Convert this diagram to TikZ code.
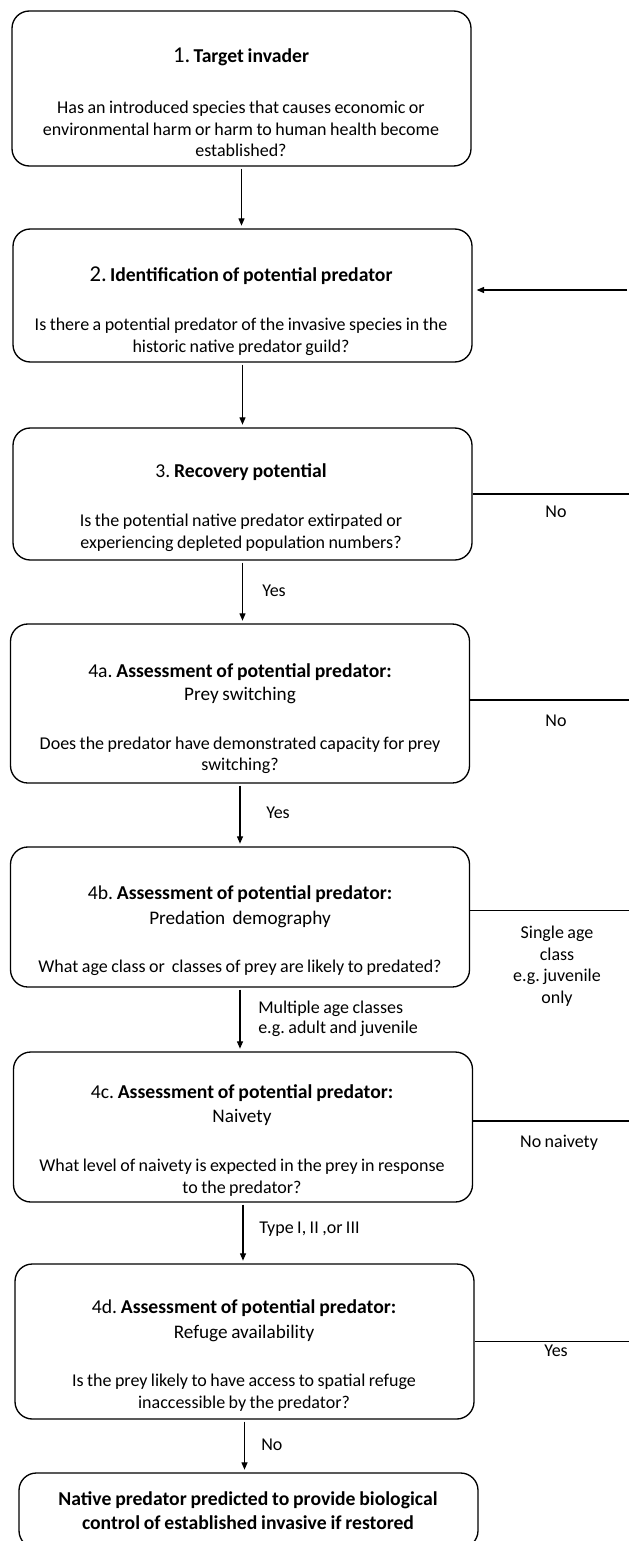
\documentclass[tikz,border=0pt]{standalone}
\usepackage{fontspec}
\setmainfont{Carlito}[WordSpace=0.85]
\usetikzlibrary{arrows.meta}
\frenchspacing
\begin{document}
\begin{tikzpicture}[x=0.75pt,y=-0.75pt,
  box/.style={draw, line width=1pt, rounded corners=13pt, inner sep=0pt, minimum width=344.25pt},
  body/.style={font=\fontsize{13.5}{16.1}\selectfont, align=center, inner sep=0pt},
  ttl/.style={font=\fontsize{14.75}{17}\selectfont, align=center, inner sep=0pt},
  sub/.style={font=\fontsize{14.4}{17}\selectfont, align=center, inner sep=0pt},
  lbl/.style={font=\fontsize{13.5}{16.2}\selectfont, align=center, inner sep=0pt},
  albl/.style={font=\fontsize{13.5}{15}\selectfont, align=left, inner sep=0pt, anchor=west},
  conn/.style={line width=0.9pt},
  arr/.style={line width=0.9pt, -{Triangle[length=5.5pt,width=4.5pt]}, shorten <=1.5pt, shorten >=2pt}
]
\useasboundingbox (0,0) rectangle (629,1541);
\coordinate (R) at (629,0);

% boxes
\node[box, minimum height=116.25pt] (b1) at (241.5,88.5) {};
\node[box, minimum height=99.75pt] (b2) at (242.5,295.5) {};
\node[box, minimum height=99pt] (b3) at (242.5,494) {};
\node[box, minimum height=119.25pt] (b4a) at (240,703.5) {};
\node[box, minimum height=105pt] (b4b) at (240,917) {};
\node[box, minimum height=112.5pt] (b4c) at (243,1127) {};
\node[box, minimum height=116.25pt] (b4d) at (244.5,1341.5) {};
\node[box, minimum height=56.25pt] (bf) at (248.5,1510.5) {};

% box texts
\node[ttl] (t1) at (241,57) {{\fontsize{17}{19}\selectfont 1.}\,\textbf{Target invader}};
\node[body] (q1) at (241,129) {Has an introduced species that causes economic or\\environmental harm or harm to human health become\\established?};

\node[ttl] (t2) at (241,276) {{\fontsize{17}{19}\selectfont 2.}\,\textbf{Identification of potential predator}};
\node[body] (q2) at (241,337) {Is there a potential predator of the invasive species in the\\historic native predator guild?};

\node[ttl] (t3) at (241,472) {3. \textbf{Recovery potential}};
\node[body] (q3) at (241,533) {Is the potential native predator extirpated or\\experiencing depleted population numbers?};

\node[ttl] (t4a) at (240,672) {4a. \textbf{Assessment of potential predator:}};
\node[sub] (s4a) at (240,695) {Prey switching};
\node[body] (q4a) at (240,755.5) {Does the predator have demonstrated capacity for prey\\switching?};

\node[ttl] (t4b) at (240,894) {4b. \textbf{Assessment of potential predator:}};
\node[sub] (s4b) at (240,919) {Predation\ \ demography};
\node[body] (q4b) at (240,968) {What age class or\ \ classes of prey are likely to predated?};

\node[ttl] (t4c) at (242,1093) {4c. \textbf{Assessment of potential predator:}};
\node[sub] (s4c) at (242,1117) {Naivety};
\node[body] (q4c) at (242,1177.5) {What level of naivety is expected in the prey in response\\to the predator?};

\node[ttl] (t4d) at (244,1308) {4d. \textbf{Assessment of potential predator:}};
\node[sub] (s4d) at (244,1333) {Refuge availability};
\node[body] (q4d) at (244,1392.5) {Is the prey likely to have access to spatial refuge\\inaccessible by the predator?};

\node[ttl, font=\fontsize{14.75}{18}\selectfont\bfseries] (tf) at (248,1511) {Native predator predicted to provide biological\\control of established invasive if restored};

% vertical arrows
\draw[arr] (b1.south) -- (b1.south |- b2.north);
\draw[arr] (b2.south) -- (b2.south |- b3.north);
\draw[arr] (b3.south) -- (b3.south |- b4a.north);
\draw[arr] (b4a.south) -- (b4a.south |- b4b.north);
\draw[arr] (b4b.south) -- (b4b.south |- b4c.north);
\draw[arr] (b4c.south) -- (b4c.south |- b4d.north);
\draw[arr] (b4d.south) -- (b4d.south |- bf.north);

% arrow labels
\node[albl] (y3) at (262,591) {Yes};
\node[albl] (y4a) at (266,813) {Yes};
\node[albl] (m4b) at (258,1019) {Multiple age classes\\e.g. adult and juvenile};
\node[albl] (ty4c) at (259,1229) {Type I, II ,or III};
\node[albl] (n4d) at (261,1445) {No};

% return lines to the right edge
\coordinate (in2) at (629,290);
\draw[arr, shorten >=3pt] (in2) -- (in2 -| b2.east);
\draw[conn] (b3.east) -- (b3.east -| R);
\draw[conn] ([yshift=2.6pt]b4a.east) -- ([yshift=2.6pt]b4a.east -| R);
\draw[conn] ([yshift=5pt]b4b.east) -- ([yshift=5pt]b4b.east -| R);
\draw[conn] ([yshift=4.5pt]b4c.east) -- ([yshift=4.5pt]b4c.east -| R);
\draw[conn] (b4d.east) -- (b4d.east -| R);

% side labels
\node[lbl] (n3) at (556,512) {No};
\node[lbl] (n4a) at (556,721) {No};
\node[lbl] (s4bl) at (557,966) {Single age\\class\\e.g. juvenile\\only};
\node[lbl] (n4c) at (559,1143) {No naivety};
\node[lbl] (y4d) at (556,1351) {Yes};
\end{tikzpicture}
\end{document}
